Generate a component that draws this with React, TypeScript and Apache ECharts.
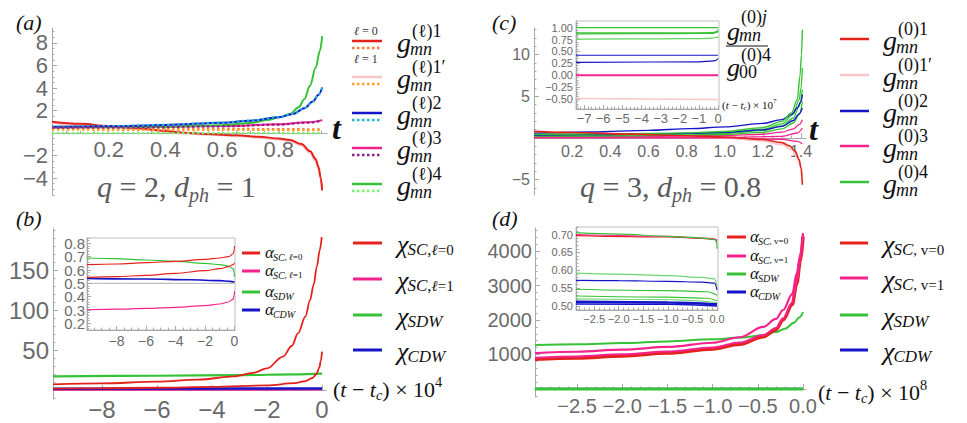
import React, { useEffect, useRef } from 'react';
import * as echarts from 'echarts';

// ---------------- data ----------------
// panel (a): g_mn^(l)j versus t
const A_G1_L0 = [[0,1.0],[0.1,0.82],[0.2,0.63],[0.3,0.43],[0.4,0.2],[0.45,0.05],[0.55,-0.08],[0.65,-0.2],[0.73,-0.33],[0.8,-0.48],[0.84,-0.62],[0.88,-0.98],[0.91,-1.6],[0.93,-2.3],[0.94,-3.0],[0.948,-4.0],[0.953,-5.1]];
const A_G1P_L0 = [[0,0.92],[0.1,0.74],[0.2,0.56],[0.3,0.36],[0.4,0.15],[0.45,0.0],[0.55,-0.13],[0.65,-0.26],[0.73,-0.4],[0.8,-0.56],[0.84,-0.72],[0.88,-1.1],[0.91,-1.75],[0.93,-2.5],[0.94,-3.2],[0.948,-4.1],[0.953,-4.9]];
const A_G1_L1 = [[0,0.45],[0.3,0.42],[0.6,0.38],[0.8,0.35],[0.953,0.33]];
const A_G1P_L1 = [[0,0.3],[0.5,0.28],[0.953,0.26]];
const A_G2_L0 = [[0,0.55],[0.2,0.6],[0.4,0.72],[0.6,0.92],[0.7,1.1],[0.8,1.4],[0.85,1.7],[0.89,2.2],[0.92,2.8],[0.94,3.4],[0.953,4.05]];
const A_G2_L1 = [[0,0.56],[0.2,0.61],[0.4,0.73],[0.6,0.93],[0.7,1.11],[0.8,1.41],[0.85,1.71],[0.89,2.21],[0.92,2.81],[0.94,3.41],[0.953,4.0]];
const A_G3_L0 = [[0,0.5],[0.3,0.53],[0.6,0.62],[0.8,0.78],[0.9,0.95],[0.953,1.15]];
const A_G3_L1 = [[0,0.48],[0.3,0.51],[0.6,0.6],[0.8,0.75],[0.9,0.92],[0.953,1.1]];
const A_G4_L0 = [[0,0.5],[0.2,0.52],[0.4,0.57],[0.6,0.7],[0.7,0.9],[0.76,1.15],[0.8,1.4],[0.84,1.7],[0.87,2.3],[0.89,3.0],[0.91,4.2],[0.93,5.8],[0.945,7.3],[0.953,8.6]];
const A_G4_L1 = [[0,0],[0.953,0]];
const A_XTICKS = [0.2,0.4,0.6,0.8];
const A_YTICKS = [-4,-2,2,4,6,8];

// panel (b): chi versus (t - tc) x 10^4
const B_SC0_A = [[-9.78,7],[-8,8.3],[-6,10.5],[-4.5,13],[-3.2,17],[-2.5,21.5],[-2,27],[-1.42,41.7],[-1.1,55],[-0.87,71],[-0.6,92],[-0.44,112],[-0.3,132],[-0.19,154],[-0.08,175],[-0.01,191]];
const B_SC0_B = [[-9.78,1.8],[-8,2.2],[-6,2.8],[-4,3.8],[-2,5.8],[-1,8.5],[-0.6,11],[-0.35,15],[-0.2,20],[-0.1,28],[-0.04,37],[0,48]];
const B_SDW = [[-9.78,17],[-6,17.8],[-3,18.6],[-1,19.5],[0,20.5]];
const B_CDW = [[-9.78,1.5],[0,1.8]];
const B_SC1 = [[-9.78,0.3],[0,0.6]];
const B_XTICKS = [-8,-6,-4,-2,0];
const B_YTICKS = [50,100,150];
// inset (b): alpha
const BI_SC0_A = [[-10,0.64],[-8,0.645],[-6,0.655],[-4,0.665],[-2,0.68],[-1,0.69],[-0.4,0.7],[-0.1,0.72],[-0.02,0.75],[0,0.78]];
const BI_SC0_B = [[-10,0.545],[-8,0.55],[-6,0.56],[-4,0.575],[-2,0.595],[-1,0.61],[-0.4,0.625],[-0.1,0.64],[0,0.655]];
const BI_SDW = [[-10,0.69],[-8,0.685],[-6,0.675],[-4,0.665],[-2,0.65],[-1,0.64],[-0.4,0.63],[-0.1,0.61],[-0.02,0.58],[0,0.55]];
const BI_CDW = [[-10,0.537],[-6,0.532],[-3,0.527],[-1,0.52],[-0.3,0.515],[0,0.51]];
const BI_SC1 = [[-10,0.302],[-8,0.306],[-6,0.312],[-4,0.32],[-2,0.333],[-1,0.345],[-0.4,0.36],[-0.1,0.38],[-0.02,0.41],[0,0.44]];
const BI_REF = [[-10,0.5],[0.03,0.5]];
const BI_XTICKS = [-8,-6,-4,-2,0];
const BI_YTICKS_EVEN = [0.2,0.4,0.6,0.8];
const BI_YTICKS_ODD = [0.3,0.5,0.7];

// panel (c): g_mn^(0)j versus t
const C_G1 = [[0,0.8],[0.2,0.66],[0.5,0.46],[0.8,0.27],[1.0,0.12],[1.2,-0.18],[1.3,-0.55],[1.34,-0.95],[1.37,-1.6],[1.39,-2.6],[1.4,-3.6],[1.407,-5.6]];
const C_G1P = [[0,0.62],[0.3,0.48],[0.6,0.3],[1.0,0.0],[1.2,-0.35],[1.3,-0.8],[1.35,-1.4],[1.38,-2.3],[1.4,-3.5],[1.407,-4.5]];
const C_G2A = [[0,0.55],[0.3,0.72],[0.6,0.92],[0.82,1.12],[1.0,1.33],[1.2,1.75],[1.3,2.2],[1.35,2.8],[1.38,3.6],[1.4,4.4],[1.407,5.2]];
const C_G2B = [[0,0.35],[0.4,0.42],[0.8,0.55],[1.0,0.68],[1.2,0.98],[1.3,1.4],[1.36,2.1],[1.39,2.9],[1.407,3.6]];
const C_G3A = [[0,0.15],[0.6,0.2],[1.0,0.3],[1.2,0.45],[1.3,0.7],[1.36,1.1],[1.39,1.6],[1.407,2.2]];
const C_G3B = [[0,0.02],[1.0,0.05],[1.3,0.2],[1.38,0.6],[1.407,1.2]];
const C_G3C = [[0,0.08],[1.0,0.02],[1.3,-0.15],[1.38,-0.4],[1.407,-0.7]];
const C_G4A = [[0,0.45],[0.4,0.5],[0.8,0.62],[1.0,0.78],[1.2,1.25],[1.3,2.0],[1.35,3.0],[1.38,4.6],[1.395,7.5],[1.402,10.0],[1.407,13.0]];
const C_G4B = [[0,0.38],[0.5,0.42],[1.0,0.65],[1.2,1.05],[1.3,1.7],[1.36,2.9],[1.39,4.6],[1.4,6.0],[1.407,8.4]];
const C_G4C = [[0,0.3],[0.5,0.34],[1.0,0.55],[1.2,0.88],[1.3,1.45],[1.36,2.4],[1.39,3.8],[1.407,5.8]];
const C_G4D = [[0,0.22],[0.5,0.25],[1.0,0.42],[1.2,0.68],[1.3,1.1],[1.36,1.8],[1.39,2.8],[1.407,4.4]];
const C_XTICKS = [0.2,0.4,0.6,0.8,1.0,1.2,1.4];
const C_YTICKS = [-5,5,10];
// inset (c): ratios
const CI_G4A = [[-7.42,1.0],[0,1.0]];
const CI_G4B = [[-7.42,0.89],[-2,0.89],[-0.3,0.895],[-0.05,0.92],[0,0.96]];
const CI_G4C = [[-7.42,0.87],[-2,0.875],[-0.3,0.88],[-0.05,0.9],[0,0.93]];
const CI_G4D = [[-7.42,0.76],[-3,0.765],[-1,0.77],[-0.3,0.78],[-0.05,0.795],[0,0.82]];
const CI_G2A = [[-7.42,0.42],[0,0.42]];
const CI_G2B = [[-7.42,0.27],[-1,0.28],[-0.2,0.3],[0,0.35]];
const CI_G3 = [[-7.42,0.0],[0,0.0]];
const CI_G1P = [[-7.42,-0.49],[0,-0.51]];
const CI_XTICKS = [-7,-6,-5,-4,-3,-2,-1,0];
const CI_YTICKS = [-0.5,-0.25,0,0.25,0.5,0.75,1.0];

// panel (d): chi versus (t - tc) x 10^8
const D_SC0 = [[-2.965,860],[-2.5,900],[-2,960],[-1.5,1040],[-1,1160],[-0.7,1300],[-0.44,1516],[-0.3,1720],[-0.22,2000],[-0.12,2450],[-0.07,3060],[-0.03,3700],[0,4420]];
const D_SC0B = [[-2.965,905],[-2.5,945],[-2,1005],[-1.5,1085],[-1,1205],[-0.7,1345],[-0.44,1565],[-0.3,1770],[-0.22,2050],[-0.12,2500],[-0.07,3110],[-0.03,3760],[0,4470]];
const D_SC1 = [[-2.965,1040],[-2.5,1080],[-2,1140],[-1.5,1220],[-1,1340],[-0.7,1500],[-0.44,1800],[-0.3,2030],[-0.22,2290],[-0.12,2750],[-0.07,3350],[-0.03,3900],[0,4520]];
const D_SDW = [[-2.965,1275],[-2.5,1300],[-2,1330],[-1.5,1380],[-1,1440],[-0.7,1490],[-0.44,1560],[-0.3,1650],[-0.2,1750],[-0.1,1920],[-0.04,2080],[0,2230]];
const D_SDW0 = [[-2.965,0],[0,0]];
const D_CDW = [[-2.965,6],[0,6]];
const D_XTICKS = [-2.5,-2.0,-1.5,-1.0,-0.5,0.0];
const D_YTICKS = [1000,2000,3000,4000];
// inset (d): alpha
const DI_SDW_A = [[-2.87,0.705],[-2,0.701],[-1,0.695],[-0.5,0.692],[-0.2,0.689],[-0.05,0.686],[-0.01,0.68],[0,0.66]];
const DI_SC1 = [[-2.87,0.700],[-1,0.695],[-0.3,0.690],[-0.05,0.688],[0,0.684]];
const DI_SC0 = [[-2.87,0.697],[-1,0.693],[-0.3,0.689],[-0.05,0.686],[0,0.68]];
const DI_SDW_B = [[-2.87,0.592],[-2,0.589],[-1,0.585],[-0.3,0.58],[-0.05,0.576],[0,0.555]];
const DI_CDW_A = [[-2.87,0.572],[-2,0.571],[-1,0.569],[-0.3,0.567],[-0.05,0.564],[0,0.545]];
const DI_SDW_C = [[-2.87,0.547],[-1,0.543],[-0.2,0.54],[0,0.53]];
const DI_SDW_D = [[-2.87,0.528],[-1,0.525],[-0.2,0.522],[0,0.515]];
const DI_SDW_E = [[-2.87,0.52],[-1,0.518],[0,0.51]];
const DI_CDW_B = [[-2.87,0.512],[-1,0.51],[0,0.505]];
const DI_CDW_C = [[-2.87,0.506],[-1,0.505],[0,0.5]];
const DI_XTICKS = [-2.5,-2.0,-1.5,-1.0,-0.5,0.0];
const DI_YTICKS = [0.5,0.55,0.6,0.65,0.7];

// ---------------- style ----------------
const SERIF = "'Liberation Serif', 'DejaVu Serif', serif";
const SANS = "'Liberation Sans', Arial, sans-serif";
const AXIS = '#a8a8a8';
const LABEL = '#6a6a6a';
const RED = '#e4221c', LPINK = '#f8c6c6', OR1 = '#ff7a3c', OR2 = '#ffa12a', BLUE = '#1414c8', CYAN = '#1fb6d8',
  PINK = '#f5238c', PURPLE = '#8c1f8c', GREEN = '#36c236', LGREEN = '#74f56a', GRAY = '#b0b0b0';

let _ctx: CanvasRenderingContext2D | null = null;
function tw(t: string, font: string) {
  if (!_ctx) _ctx = document.createElement('canvas').getContext('2d');
  _ctx!.font = font;
  return _ctx!.measureText(t).width;
}
type Seg = { t: string; s: number; it?: boolean; dy?: number; dx?: number; b?: boolean };
function fontOf(g: Seg) { return `${g.it ? 'italic ' : ''}${g.b ? 'bold ' : ''}${g.s}px ${SERIF}`; }
function txt(x: number, y: number, t: string, font: string, fill: string) {
  return { type: 'text', x, y, z: 20, silent: true, style: { text: t, font, fill, align: 'left', verticalAlign: 'middle' } };
}
function mt(x: number, y: number, segs: Seg[], color = '#111') {
  const out: any[] = [];
  let cx = x;
  for (const g of segs) {
    const f = fontOf(g);
    cx += g.dx || 0;
    out.push(txt(cx, y + (g.dy || 0), g.t, f, color));
    cx += tw(g.t, f);
  }
  return out;
}
function sym(x: number, y: number, head: string, hs: number, sup: Seg[] | null, sub: Seg[] | null, color = '#111', supDy = -0.42, subDy = 0.27) {
  const hf = `italic ${hs}px ${SERIF}`;
  const w = tw(head, hf);
  const els: any[] = [txt(x, y, head, hf, color)];
  if (sup) els.push(...mt(x + w + 1, y + supDy * hs, sup, color));
  if (sub) els.push(...mt(x + w - 1, y + subDy * hs, sub, color));
  return els;
}
function seg(x1: number, y1: number, x2: number, y2: number, stroke: string, lw: number, dash?: number[]) {
  return { type: 'line', z: 20, silent: true, shape: { x1, y1, x2, y2 }, style: { stroke, lineWidth: lw, lineDash: dash || null } };
}

const fmtI = (v: number) => (v < -1e-9 ? '\u2212' : '') + String(Math.round(Math.abs(v)));
const fmtD = (d: number) => (v: number) => (v < -1e-9 ? '\u2212' : '') + Math.abs(v).toFixed(d);
function range(a: number, b: number, s: number) { const r: number[] = []; const n = Math.floor((b - a) / s + 1e-6); for (let i = 0; i <= n; i++) r.push(+(a + i * s).toFixed(6)); return r; }

type AxSpec = { grid: number; min: number; max: number; ticks: number[]; fmt: (v: number) => string; fs: number; margin: number; minor: number; frame?: boolean; off?: number; ticks2?: number[] };
function addAxis(list: any[], dim: 'x' | 'y', s: AxSpec) {
  const pos = dim === 'x' ? 'bottom' : 'left';
  const base = { type: 'value', gridIndex: s.grid, min: s.min, max: s.max, position: pos, offset: s.off || 0, splitLine: { show: false }, silent: true };
  const mstart = Math.ceil(s.min / s.minor - 1e-9) * s.minor;
  const lab = (vals: number[]) => ({
    show: true, customValues: vals, formatter: s.fmt, fontSize: s.fs, color: LABEL, fontFamily: SANS, margin: s.margin,
    showMinLabel: true, showMaxLabel: true, hideOverlap: false,
  });
  list.push({
    ...base,
    axisLine: { show: true, onZero: false, lineStyle: { color: AXIS, width: 1 } },
    axisTick: { show: true, inside: true, length: s.frame ? 4 : 5, customValues: [...s.ticks, ...(s.ticks2 || [])], lineStyle: { color: AXIS } },
    axisLabel: lab(s.ticks),
  });
  list.push({
    ...base,
    axisLine: { show: false, onZero: false },
    axisTick: { show: true, inside: true, length: 2.5, customValues: range(mstart, s.max, s.minor), lineStyle: { color: AXIS } },
    axisLabel: s.ticks2 ? lab(s.ticks2) : { show: false },
  });
  return list.length - 2;
}
// offset that lifts a bottom x axis onto the y = 0 line of its grid
const zeroOff = (h: number, ymin: number, ymax: number) => -h * (0 - ymin) / (ymax - ymin);

function L(data: number[][], color: string, width: number, xi: number, yi: number, dash?: number[], z = 2) {
  return {
    type: 'line', data, xAxisIndex: xi, yAxisIndex: yi, symbol: 'none', showSymbol: false, smooth: 0.35, smoothMonotone: 'x',
    lineStyle: { color, width, type: dash || 'solid', cap: 'butt' }, z, silent: true, clip: true,
  };
}

function buildOption() {
  const xA: any[] = [], yA: any[] = [];
  const frameGrid = { show: true, borderColor: '#bdbdbd', borderWidth: 1, backgroundColor: '#ffffff' };
  const grid = [
    { left: 52, top: 28, width: 275, height: 167 },
    { left: 53, top: 228, width: 273, height: 171 },
    { left: 534, top: 28, width: 272, height: 167 },
    { left: 535, top: 228, width: 271, height: 169 },
    { left: 87, top: 238, width: 148, height: 92, ...frameGrid },
    { left: 576, top: 21, width: 143, height: 88, ...frameGrid },
    { left: 576, top: 227, width: 142, height: 83, ...frameGrid },
  ];
  const AY = [-5.5, 9.33], BY = [-11.25, 202.5], CY = [-6.84, 13.2], DY = [-232, 4667];
  const ax = addAxis(xA, 'x', { grid: 0, min: 0, max: 0.97, ticks: A_XTICKS, fmt: fmtD(1), fs: 22, margin: 5, minor: 0.05, off: zeroOff(167, AY[0], AY[1]) });
  const ay = addAxis(yA, 'y', { grid: 0, min: AY[0], max: AY[1], ticks: A_YTICKS, fmt: fmtI, fs: 22, margin: 4, minor: 0.5 });
  const bx = addAxis(xA, 'x', { grid: 1, min: -9.78, max: 0.145, ticks: B_XTICKS, fmt: fmtI, fs: 24, margin: 7, minor: 0.5, off: zeroOff(171, BY[0], BY[1]) });
  const by = addAxis(yA, 'y', { grid: 1, min: BY[0], max: BY[1], ticks: B_YTICKS, fmt: fmtI, fs: 24, margin: 4, minor: 10 });
  const cx = addAxis(xA, 'x', { grid: 2, min: 0, max: 1.426, ticks: C_XTICKS, fmt: fmtD(1), fs: 16, margin: 5, minor: 0.05, off: zeroOff(167, CY[0], CY[1]) });
  const cy = addAxis(yA, 'y', { grid: 2, min: CY[0], max: CY[1], ticks: C_YTICKS, fmt: fmtI, fs: 16, margin: 4, minor: 1 });
  const dx = addAxis(xA, 'x', { grid: 3, min: -2.965, max: 0.033, ticks: D_XTICKS, fmt: fmtD(1), fs: 20, margin: 7, minor: 0.1, off: zeroOff(169, DY[0], DY[1]) });
  const dy = addAxis(yA, 'y', { grid: 3, min: DY[0], max: DY[1], ticks: D_YTICKS, fmt: fmtI, fs: 20, margin: 3, minor: 200 });
  const bix = addAxis(xA, 'x', { grid: 4, min: -10, max: 0.034, ticks: BI_XTICKS, fmt: fmtI, fs: 14, margin: 4, minor: 0.5, frame: true });
  const biy = addAxis(yA, 'y', { grid: 4, min: 0.15, max: 0.84, ticks: BI_YTICKS_EVEN, ticks2: BI_YTICKS_ODD, fmt: fmtD(1), fs: 15, margin: 2, minor: 0.02, frame: true });
  const cix = addAxis(xA, 'x', { grid: 5, min: -7.42, max: 0.05, ticks: CI_XTICKS, fmt: fmtI, fs: 13, margin: 3, minor: 0.2, frame: true });
  const ciy = addAxis(yA, 'y', { grid: 5, min: -0.71, max: 1.14, ticks: CI_YTICKS, fmt: fmtD(2), fs: 11, margin: 3, minor: 0.05, frame: true });
  const dix = addAxis(xA, 'x', { grid: 6, min: -2.87, max: 0.02, ticks: DI_XTICKS, fmt: fmtD(1), fs: 11, margin: 3, minor: 0.1, frame: true });
  const diy = addAxis(yA, 'y', { grid: 6, min: 0.489, max: 0.721, ticks: DI_YTICKS, fmt: fmtD(2), fs: 11, margin: 3, minor: 0.01, frame: true });

  const D1 = [2.5, 2.5];
  const series: any[] = [
    // (a)
    L(A_G1P_L0, LPINK, 2.2, ax, ay), L(A_G1_L0, RED, 2, ax, ay),
    L(A_G3_L0, PINK, 2, ax, ay), L(A_G4_L0, GREEN, 2, ax, ay), L(A_G2_L0, BLUE, 2, ax, ay),
    L(A_G1_L1, OR1, 2.2, ax, ay, D1, 3), L(A_G1P_L1, OR2, 2.2, ax, ay, D1, 3),
    L(A_G2_L1, CYAN, 2.2, ax, ay, D1, 3), L(A_G3_L1, PURPLE, 2.2, ax, ay, D1, 3), L(A_G4_L1, LGREEN, 2.2, ax, ay, D1, 3),
    // (b)
    L(B_SC1, PINK, 2.2, bx, by), L(B_CDW, BLUE, 2.5, bx, by), L(B_SDW, GREEN, 2.2, bx, by),
    L(B_SC0_B, RED, 1.8, bx, by), L(B_SC0_A, RED, 1.8, bx, by),
    L(BI_REF, GRAY, 1, bix, biy), L(BI_SC1, PINK, 1.2, bix, biy), L(BI_CDW, BLUE, 1.6, bix, biy),
    L(BI_SDW, GREEN, 1.2, bix, biy), L(BI_SC0_B, RED, 1.1, bix, biy), L(BI_SC0_A, RED, 1.1, bix, biy),
    // (c)
    L(C_G1P, LPINK, 1.8, cx, cy), L(C_G3C, PINK, 1.3, cx, cy), L(C_G3B, PINK, 1.3, cx, cy), L(C_G3A, PINK, 1.3, cx, cy),
    L(C_G4D, GREEN, 1.3, cx, cy), L(C_G4C, GREEN, 1.3, cx, cy), L(C_G4B, GREEN, 1.3, cx, cy),
    L(C_G2B, BLUE, 1.3, cx, cy), L(C_G2A, BLUE, 1.4, cx, cy), L(C_G4A, GREEN, 1.4, cx, cy), L(C_G1, RED, 1.6, cx, cy),
    L(CI_G1P, LPINK, 1.5, cix, ciy), L(CI_G3, PINK, 2, cix, ciy), L(CI_G2B, BLUE, 1.2, cix, ciy), L(CI_G2A, BLUE, 1.2, cix, ciy),
    L(CI_G4D, '#5fd35f', 1.2, cix, ciy), L(CI_G4C, GREEN, 1.2, cix, ciy), L(CI_G4B, GREEN, 1.2, cix, ciy), L(CI_G4A, GREEN, 1.2, cix, ciy),
    // (d)
    L(D_CDW, BLUE, 2, dx, dy), L(D_SDW0, GREEN, 3, dx, dy), L(D_SDW, GREEN, 2, dx, dy),
    L(D_SC0, RED, 3.5, dx, dy), L(D_SC0B, PINK, 2, dx, dy), L(D_SC1, PINK, 2.2, dx, dy),
    L(DI_CDW_C, BLUE, 1.5, dix, diy), L(DI_CDW_B, BLUE, 2.5, dix, diy), L(DI_SDW_E, '#7ad97a', 1.1, dix, diy),
    L(DI_SDW_D, GREEN, 1.1, dix, diy), L(DI_SDW_C, GREEN, 1.2, dix, diy), L(DI_CDW_A, BLUE, 1.2, dix, diy),
    L(DI_SDW_B, '#6ed66e', 1.2, dix, diy), L(DI_SC0, RED, 1.2, dix, diy), L(DI_SC1, PINK, 1.2, dix, diy), L(DI_SDW_A, GREEN, 1.2, dix, diy),
  ];

  const G: any[] = [];
  const K = '#111';
  // panel tags
  G.push(...mt(16, 22, [{ t: '(a)', s: 22, it: true }], K));
  G.push(...mt(16, 218, [{ t: '(b)', s: 22, it: true }], K));
  G.push(...mt(492, 22, [{ t: '(c)', s: 22, it: true }], K));
  G.push(...mt(492, 218, [{ t: '(d)', s: 22, it: true }], K));
  // parameter labels
  const QG = '#5a5a5a';
  G.push(...mt(97, 186, [{ t: 'q', s: 30, it: true }, { t: ' = 2, ', s: 30 }, { t: 'd', s: 30, it: true }, { t: 'ph', s: 20, it: true, dy: 9 }, { t: ' = 1', s: 30 }], QG));
  G.push(...mt(580, 186, [{ t: 'q', s: 30, it: true }, { t: ' = 3, ', s: 30 }, { t: 'd', s: 30, it: true }, { t: 'ph', s: 20, it: true, dy: 9 }, { t: ' = 0.8', s: 30 }], QG));
  // axis "t"
  G.push(...mt(332, 128, [{ t: 't', s: 32, it: true, b: true }], K));
  G.push(...mt(809, 129, [{ t: 't', s: 32, it: true, b: true }], K));
  // (t - tc) labels
  const tlab = (x: number, y: number, p: string, s: number) => mt(x, y, [
    { t: '(', s }, { t: 't', s, it: true }, { t: ' \u2212 ', s }, { t: 't', s, it: true }, { t: 'c', s: s * 0.65, it: true, dy: s * 0.25 },
    { t: ')', s }, { t: ' \u00d7 10', s }, { t: p, s: s * 0.65, dy: -s * 0.32 },
  ], K);
  G.push(...tlab(333, 389, '4', 22));
  G.push(...tlab(818, 392, '8', 22));
  G.push(...tlab(722, 105, '7', 11));

  // legend (a)
  const aRows = [
    { y: 41, c1: RED, c2: OR1, sup: '1' },
    { y: 77, c1: LPINK, c2: OR2, sup: '1\u2032' },
    { y: 113, c1: BLUE, c2: CYAN, sup: '2' },
    { y: 148, c1: PINK, c2: PURPLE, sup: '3' },
    { y: 184, c1: GREEN, c2: LGREEN, sup: '4' },
  ];
  aRows.forEach((r) => {
    G.push(seg(352, r.y, 382, r.y, r.c1, 2.5));
    G.push(seg(352, r.y + 7, 382, r.y + 7, r.c2, 2.5, [2.5, 2.5]));
    G.push(...sym(397, r.y + 1, 'g', 28, [{ t: '(', s: 18 }, { t: '\u2113', s: 18 }, { t: ')' + r.sup, s: 18 }], [{ t: 'mn', s: 18, it: true }], K, -0.38, 0.25));
  });
  G.push(...mt(354, 31, [{ t: '\u2113', s: 12, it: true }, { t: ' = 0', s: 12 }], '#333'));
  G.push(...mt(354, 59, [{ t: '\u2113', s: 12, it: true }, { t: ' = 1', s: 12 }], '#333'));

  // legend (c)
  const cRows = [
    { y: 39, c: RED, sup: '1' },
    { y: 75, c: LPINK, sup: '1\u2032' },
    { y: 111, c: BLUE, sup: '2' },
    { y: 146, c: PINK, sup: '3' },
    { y: 182, c: GREEN, sup: '4' },
  ];
  cRows.forEach((r) => {
    G.push(seg(840, r.y, 869, r.y, r.c, 2.5));
    G.push(...sym(883, r.y + 1, 'g', 28, [{ t: '(0)' + r.sup, s: 18 }], [{ t: 'mn', s: 18, it: true }], K, -0.38, 0.25));
  });
  // fraction in (c)
  G.push(...sym(727, 31, 'g', 26, [{ t: '(0)', s: 18 }, { t: 'j', s: 18, it: true }], [{ t: 'mn', s: 18, it: true }], K, -0.55, 0.15));
  G.push(seg(726, 46, 768, 46, K, 1));
  G.push(...sym(727, 67, 'g', 26, [{ t: '(0)4', s: 18 }], [{ t: '00', s: 18 }], K, -0.45, 0.2));

  // legend (b) main
  const bRows = [
    { y: 243, c: RED, sub: [{ t: 'SC', s: 17, it: true }, { t: ',', s: 17 }, { t: '\u2113', s: 15, it: true }, { t: '=0', s: 15 }] },
    { y: 279, c: PINK, sub: [{ t: 'SC', s: 17, it: true }, { t: ',', s: 17 }, { t: '\u2113', s: 15, it: true }, { t: '=1', s: 15 }] },
    { y: 315, c: GREEN, sub: [{ t: 'SDW', s: 17, it: true }] },
    { y: 350, c: BLUE, sub: [{ t: 'CDW', s: 17, it: true }] },
  ];
  bRows.forEach((r) => {
    G.push(seg(353, r.y, 382, r.y, r.c, 3));
    G.push(...sym(397, r.y + 1, '\u03c7', 26, null, r.sub as Seg[], K, 0, 0.22));
  });
  // legend (d) main
  const dRows = [
    { y: 243, c: RED, sub: [{ t: 'SC', s: 17, it: true }, { t: ', v=0', s: 15 }] },
    { y: 278, c: PINK, sub: [{ t: 'SC', s: 17, it: true }, { t: ', v=1', s: 15 }] },
    { y: 315, c: GREEN, sub: [{ t: 'SDW', s: 17, it: true }] },
    { y: 350, c: BLUE, sub: [{ t: 'CDW', s: 17, it: true }] },
  ];
  dRows.forEach((r) => {
    G.push(seg(840, r.y, 868, r.y, r.c, 3));
    G.push(...sym(883, r.y + 1, '\u03c7', 26, null, r.sub as Seg[], K, 0, 0.22));
  });
  // inset legend (b)
  const biRows = [
    { y: 253, c: RED, sub: [{ t: 'SC', s: 10, it: true }, { t: ', ', s: 9 }, { t: '\u2113', s: 9, it: true }, { t: '=0', s: 9 }] },
    { y: 271, c: PINK, sub: [{ t: 'SC', s: 10, it: true }, { t: ', ', s: 9 }, { t: '\u2113', s: 9, it: true }, { t: '=1', s: 9 }] },
    { y: 292, c: GREEN, sub: [{ t: 'SDW', s: 10, it: true }] },
    { y: 310, c: BLUE, sub: [{ t: 'CDW', s: 10, it: true }] },
  ];
  biRows.forEach((r) => {
    G.push(seg(242, r.y, 260, r.y, r.c, 3));
    G.push(...sym(265, r.y - 1, '\u03b1', 17, null, r.sub as Seg[], K, 0, 0.3));
  });
  // inset legend (d)
  const diRows = [
    { y: 237, c: RED, sub: [{ t: 'SC', s: 10, it: true }, { t: ', v=0', s: 9 }] },
    { y: 256, c: PINK, sub: [{ t: 'SC', s: 10, it: true }, { t: ', v=1', s: 9 }] },
    { y: 274, c: GREEN, sub: [{ t: 'SDW', s: 10, it: true }] },
    { y: 292, c: BLUE, sub: [{ t: 'CDW', s: 10, it: true }] },
  ];
  diRows.forEach((r) => {
    G.push(seg(727, r.y, 746, r.y, r.c, 3));
    G.push(...sym(750, r.y - 1, '\u03b1', 17, null, r.sub as Seg[], K, 0, 0.3));
  });

  return {
    animation: false,
    backgroundColor: '#ffffff',
    grid,
    xAxis: xA,
    yAxis: yA,
    series,
    graphic: { elements: G },
  };
}

export default function App() {
  const ref = useRef<HTMLDivElement>(null);
  useEffect(() => {
    if (!ref.current) return;
    const chart = echarts.init(ref.current, null, { renderer: 'svg' });
    chart.setOption(buildOption() as any);
    return () => chart.dispose();
  }, []);
  return <div ref={ref} style={{ position: 'absolute', left: 0, top: 0, width: 967, height: 423, background: '#fff' }} />;
}
